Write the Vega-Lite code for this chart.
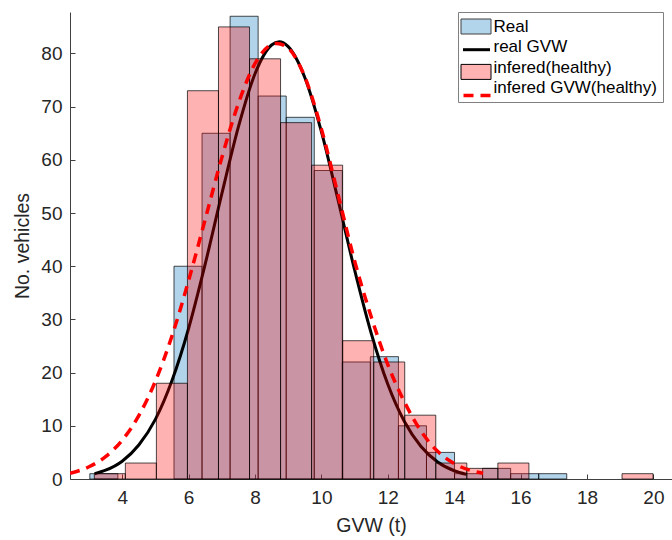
{
  "$schema": "https://vega.github.io/schema/vega-lite/v6.json",
  "width": 602,
  "height": 467,
  "autosize": "none",
  "padding": {"left": 70, "top": 12, "right": 0, "bottom": 61},
  "background": "white",
  "config": {
    "view": {"stroke": null},
    "axis": {
      "domainColor": "#404040",
      "tickColor": "#404040",
      "labelColor": "#262626",
      "titleColor": "#262626",
      "labelFont": "Liberation Sans",
      "titleFont": "Liberation Sans",
      "labelFontSize": 19,
      "titleFontSize": 19.5,
      "titleFontWeight": "normal",
      "grid": false,
      "tickSize": -5
    },
    "legend": {
      "orient": "none",
      "legendX": 388,
      "legendY": 0,
      "title": null,
      "fillColor": null,
      "strokeColor": null,
      "padding": 6,
      "rowPadding": 2.5,
      "labelFont": "Liberation Sans",
      "labelFontSize": 17,
      "labelColor": "#000000",
      "labelLimit": 400,
      "symbolSize": 225,
      "symbolOffset": 3.5,
      "labelOffset": 9
    }
  },
  "datasets": {
    "real": [
      {"series": "Real", "x0": 3.025, "x1": 3.87, "n": 1},
      {"series": "Real", "x0": 5.56, "x1": 6.405, "n": 40},
      {"series": "Real", "x0": 6.405, "x1": 7.25, "n": 65},
      {"series": "Real", "x0": 7.25, "x1": 8.095, "n": 87},
      {"series": "Real", "x0": 8.095, "x1": 8.94, "n": 72},
      {"series": "Real", "x0": 8.94, "x1": 9.785, "n": 68},
      {"series": "Real", "x0": 9.785, "x1": 10.63, "n": 58},
      {"series": "Real", "x0": 10.63, "x1": 11.475, "n": 22},
      {"series": "Real", "x0": 11.475, "x1": 12.32, "n": 23},
      {"series": "Real", "x0": 12.32, "x1": 13.165, "n": 10},
      {"series": "Real", "x0": 13.165, "x1": 14.01, "n": 5},
      {"series": "Real", "x0": 14.01, "x1": 14.855, "n": 1},
      {"series": "Real", "x0": 14.855, "x1": 15.7, "n": 2},
      {"series": "Real", "x0": 15.7, "x1": 16.545, "n": 1},
      {"series": "Real", "x0": 16.545, "x1": 17.39, "n": 1}
    ],
    "inferred": [
      {"series": "infered(healthy)", "x0": 3.16, "x1": 4.095, "n": 1},
      {"series": "infered(healthy)", "x0": 4.095, "x1": 5.03, "n": 3},
      {"series": "infered(healthy)", "x0": 5.03, "x1": 5.965, "n": 18},
      {"series": "infered(healthy)", "x0": 5.965, "x1": 6.9, "n": 73},
      {"series": "infered(healthy)", "x0": 6.9, "x1": 7.835, "n": 85},
      {"series": "infered(healthy)", "x0": 7.835, "x1": 8.77, "n": 79},
      {"series": "infered(healthy)", "x0": 8.77, "x1": 9.705, "n": 67},
      {"series": "infered(healthy)", "x0": 9.705, "x1": 10.64, "n": 59},
      {"series": "infered(healthy)", "x0": 10.64, "x1": 11.575, "n": 26},
      {"series": "infered(healthy)", "x0": 11.575, "x1": 12.51, "n": 22},
      {"series": "infered(healthy)", "x0": 12.51, "x1": 13.445, "n": 12},
      {"series": "infered(healthy)", "x0": 13.445, "x1": 14.38, "n": 3},
      {"series": "infered(healthy)", "x0": 14.38, "x1": 15.315, "n": 2},
      {"series": "infered(healthy)", "x0": 15.315, "x1": 16.25, "n": 3},
      {"series": "infered(healthy)", "x0": 19.055, "x1": 19.99, "n": 1}
    ],
    "realfit": [
      {"series": "real GVW", "gvw": 3.17, "n": 0.99},
      {"series": "real GVW", "gvw": 3.5, "n": 1.65},
      {"series": "real GVW", "gvw": 4.0, "n": 3.35},
      {"series": "real GVW", "gvw": 4.5, "n": 6.4},
      {"series": "real GVW", "gvw": 5.0, "n": 11.2},
      {"series": "real GVW", "gvw": 5.5, "n": 18.5},
      {"series": "real GVW", "gvw": 6.0, "n": 28.3},
      {"series": "real GVW", "gvw": 6.5, "n": 40.4},
      {"series": "real GVW", "gvw": 7.0, "n": 53.6},
      {"series": "real GVW", "gvw": 7.5, "n": 66.2},
      {"series": "real GVW", "gvw": 8.0, "n": 76.2},
      {"series": "real GVW", "gvw": 8.5, "n": 81.6},
      {"series": "real GVW", "gvw": 8.73, "n": 82.2},
      {"series": "real GVW", "gvw": 9.0, "n": 81.3},
      {"series": "real GVW", "gvw": 9.5, "n": 75.5},
      {"series": "real GVW", "gvw": 10.0, "n": 65.3},
      {"series": "real GVW", "gvw": 10.5, "n": 52.5},
      {"series": "real GVW", "gvw": 11.0, "n": 39.3},
      {"series": "real GVW", "gvw": 11.5, "n": 27.4},
      {"series": "real GVW", "gvw": 12.0, "n": 17.8},
      {"series": "real GVW", "gvw": 12.5, "n": 10.8},
      {"series": "real GVW", "gvw": 13.0, "n": 6.1},
      {"series": "real GVW", "gvw": 13.5, "n": 3.2},
      {"series": "real GVW", "gvw": 14.0, "n": 1.55},
      {"series": "real GVW", "gvw": 14.37, "n": 0.87}
    ],
    "inferredfit": [
      {"series": "infered GVW(healthy)", "gvw": 2.43, "n": 1.07},
      {"series": "infered GVW(healthy)", "gvw": 3.0, "n": 2.3},
      {"series": "infered GVW(healthy)", "gvw": 3.5, "n": 4.2},
      {"series": "infered GVW(healthy)", "gvw": 4.0, "n": 7.3},
      {"series": "infered GVW(healthy)", "gvw": 4.5, "n": 11.9},
      {"series": "infered GVW(healthy)", "gvw": 5.0, "n": 18.4},
      {"series": "infered GVW(healthy)", "gvw": 5.5, "n": 26.9},
      {"series": "infered GVW(healthy)", "gvw": 6.0, "n": 37.3},
      {"series": "infered GVW(healthy)", "gvw": 6.5, "n": 48.8},
      {"series": "infered GVW(healthy)", "gvw": 7.0, "n": 60.4},
      {"series": "infered GVW(healthy)", "gvw": 7.5, "n": 70.6},
      {"series": "infered GVW(healthy)", "gvw": 8.0, "n": 78.1},
      {"series": "infered GVW(healthy)", "gvw": 8.5, "n": 81.7},
      {"series": "infered GVW(healthy)", "gvw": 8.65, "n": 81.9},
      {"series": "infered GVW(healthy)", "gvw": 9.0, "n": 81.0},
      {"series": "infered GVW(healthy)", "gvw": 9.5, "n": 75.6},
      {"series": "infered GVW(healthy)", "gvw": 10.0, "n": 65.8},
      {"series": "infered GVW(healthy)", "gvw": 10.5, "n": 53.5},
      {"series": "infered GVW(healthy)", "gvw": 11.0, "n": 41.0},
      {"series": "infered GVW(healthy)", "gvw": 11.5, "n": 30.5},
      {"series": "infered GVW(healthy)", "gvw": 12.0, "n": 21.5},
      {"series": "infered GVW(healthy)", "gvw": 12.5, "n": 14.5},
      {"series": "infered GVW(healthy)", "gvw": 13.0, "n": 9.0},
      {"series": "infered GVW(healthy)", "gvw": 13.5, "n": 5.2},
      {"series": "infered GVW(healthy)", "gvw": 14.0, "n": 2.9},
      {"series": "infered GVW(healthy)", "gvw": 14.5, "n": 1.6},
      {"series": "infered GVW(healthy)", "gvw": 14.87, "n": 1.07}
    ]
  },
  "layer": [
    {
      "data": {"name": "real"},
      "mark": {"type": "rect", "fillOpacity": 0.3, "stroke": "#000000", "strokeOpacity": 0.7, "strokeWidth": 1},
      "encoding": {
        "x": {"field": "x0", "type": "quantitative",
              "scale": {"domain": [2.428, 20.56], "nice": false, "zero": false},
              "axis": {"values": [4, 6, 8, 10, 12, 14, 16, 18, 20], "title": "GVW (t)", "titlePadding": 9, "labelPadding": 14}},
        "x2": {"field": "x1"},
        "y": {"field": "n", "type": "quantitative",
              "scale": {"domain": [0, 87.8], "nice": false},
              "axis": {"values": [0, 10, 20, 30, 40, 50, 60, 70, 80], "title": "No. vehicles", "titlePadding": 8, "labelPadding": 13}},
        "y2": {"datum": 0},
        "color": {
          "field": "series",
          "type": "nominal",
          "scale": {
            "domain": ["Real", "real GVW", "infered(healthy)", "infered GVW(healthy)"],
            "range": ["#0072BD", "#000000", "#FF0000", "#FF0000"]
          },
          "legend": {
            "title": null,
            "legendY": 0,
            "strokeColor": "#808080",
            "symbolOpacity": 0
          }
        },
        "opacity": {
          "field": "series",
          "type": "nominal",
          "scale": {"domain": ["Real"], "range": [1, 1]},
          "legend": {
            "title": null,
            "legendY": 0,
            "labelExpr": "''",
            "symbolType": "M-2,-1H2V1H-2Z",
            "symbolFillColor": "#B3D5EB",
            "symbolStrokeColor": "#404040",
            "symbolStrokeWidth": 1
          }
        }
      }
    },
    {
      "data": {"name": "realfit"},
      "mark": {"type": "line", "interpolate": "monotone", "clip": true},
      "encoding": {
        "x": {"field": "gvw", "type": "quantitative"},
        "y": {"field": "n", "type": "quantitative"},
        "color": {"field": "series", "type": "nominal", "legend": null},
        "strokeWidth": {
          "field": "series",
          "type": "nominal",
          "scale": {"domain": ["real GVW"], "range": [3, 3]},
          "legend": {
            "title": null,
            "legendY": 22.7,
            "labelExpr": "''",
            "symbolType": "M-1.8,0H1.8",
            "symbolFillColor": "transparent",
            "symbolStrokeColor": "#000000"
          }
        }
      }
    },
    {
      "data": {"name": "inferred"},
      "mark": {"type": "rect", "fillOpacity": 0.3, "strokeOpacity": 0.7, "strokeWidth": 1},
      "encoding": {
        "x": {"field": "x0", "type": "quantitative"},
        "x2": {"field": "x1"},
        "y": {"field": "n", "type": "quantitative"},
        "y2": {"datum": 0},
        "color": {"field": "series", "type": "nominal", "legend": null},
        "stroke": {
          "field": "series",
          "type": "nominal",
          "scale": {"domain": ["infered(healthy)"], "range": ["#000000"]},
          "legend": {
            "title": null,
            "legendY": 45.4,
            "labelExpr": "''",
            "symbolType": "M-2,-1H2V1H-2Z",
            "symbolFillColor": "#FFB3B3",
            "symbolStrokeWidth": 1
          }
        }
      }
    },
    {
      "data": {"name": "inferredfit"},
      "mark": {"type": "line", "strokeWidth": 3.5, "interpolate": "monotone", "clip": true},
      "encoding": {
        "x": {"field": "gvw", "type": "quantitative"},
        "y": {"field": "n", "type": "quantitative"},
        "color": {"field": "series", "type": "nominal", "legend": null},
        "strokeDash": {
          "field": "series",
          "type": "nominal",
          "scale": {"domain": ["infered GVW(healthy)"], "range": [[10, 7]]},
          "legend": {
            "title": null,
            "legendY": 68.1,
            "labelExpr": "''",
            "symbolType": "M-1.8,0H1.8",
            "symbolFillColor": "transparent",
            "symbolStrokeColor": "#FF0000",
            "symbolStrokeWidth": 3.5
          }
        }
      }
    }
  ]
}
